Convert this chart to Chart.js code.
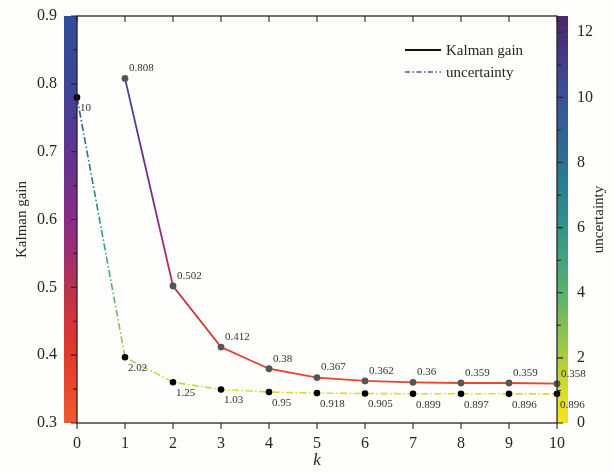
<!DOCTYPE html>
<html>
<head>
<meta charset="utf-8">
<script src="https://cdn.jsdelivr.net/npm/chart.js@4.4.1/dist/chart.umd.min.js"></script>
<style>
  html, body { margin: 0; padding: 0; background: #fdfdfc; }
  canvas { display: block; }
</style>
</head>
<body>
<canvas id="kalmanChart" width="614" height="472"></canvas>
<script>
// --- Données ---
const gainSteps = [1, 2, 3, 4, 5, 6, 7, 8, 9, 10];
const gainValues = [0.808, 0.502, 0.412, 0.38, 0.367, 0.362, 0.36, 0.359, 0.359, 0.358];
const uncertaintySteps = [0, 1, 2, 3, 4, 5, 6, 7, 8, 9, 10];
const uncertaintyValues = [10, 2.02, 1.25, 1.03, 0.95, 0.918, 0.905, 0.899, 0.897, 0.896, 0.896];

const kTicks = [0, 1, 2, 3, 4, 5, 6, 7, 8, 9, 10];
const gainTicks = [0.3, 0.4, 0.5, 0.6, 0.7, 0.8, 0.9];
const uncertaintyTicks = [0, 2, 4, 6, 8, 10, 12];

const FONT = "'Liberation Serif', 'DejaVu Serif', serif";
const INK = '#262626';

// Palettes des barres de couleur (valeur -> couleur)
const gainStops = [
    [0.3, '#ef5a30'], [0.4, '#e2392c'], [0.45, '#d23538'], [0.5, '#b7344f'],
    [0.55, '#9d2f73'], [0.6, '#8a2c86'], [0.7, '#5f3490'], [0.8, '#3c4596'], [0.9, '#2f4f9c']
];
const uncertaintyStops = [
    [0, '#f7e31e'], [1, '#d7dc2e'], [2, '#a9cd42'], [3, '#80c052'], [4, '#5ab26c'],
    [5, '#43a37e'], [6, '#32938a'], [7, '#2a838f'], [8, '#2b7290'], [9, '#306296'],
    [10, '#38529a'], [11, '#413f8d'], [12, '#4a2c74'], [12.5, '#4b276c']
];

function valueGradient(ctx, scale, stops) {
    const g = ctx.createLinearGradient(0, scale.bottom, 0, scale.top);
    const span = scale.max - scale.min;
    stops.forEach(([v, c]) => g.addColorStop(Math.min(1, Math.max(0, (v - scale.min) / span)), c));
    return g;
}

// --- Décor : barres de couleur, cadre, graduations, étiquettes, légende ---
const decorPlugin = {
    id: 'decor',
    beforeDatasetsDraw(chart) {
        const { ctx, chartArea: a, scales: { y, y1 } } = chart;
        ctx.save();
        ctx.fillStyle = valueGradient(ctx, y, gainStops);
        ctx.fillRect(a.left - 13, a.top, 13, a.bottom - a.top);
        ctx.fillStyle = valueGradient(ctx, y1, uncertaintyStops);
        ctx.fillRect(a.right, a.top, 11, a.bottom - a.top);
        ctx.restore();
    },
    afterDatasetsDraw(chart) {
        const { ctx, chartArea: a, scales: { x, y, y1 } } = chart;
        ctx.save();

        // étiquettes des points
        ctx.font = '11px ' + FONT;
        ctx.fillStyle = '#333';
        ctx.textAlign = 'left';
        ctx.textBaseline = 'middle';
        chart.getDatasetMeta(0).data.forEach((pt, i) => {
            ctx.fillText(String(gainValues[i]), pt.x + 4, pt.y - 10);
        });
        chart.getDatasetMeta(1).data.forEach((pt, i) => {
            ctx.fillText(String(uncertaintyValues[i]), pt.x + 3, pt.y + 11);
        });

        // cadre
        ctx.strokeStyle = INK;
        ctx.lineWidth = 1.3;
        ctx.strokeRect(a.left, a.top, a.right - a.left, a.bottom - a.top);

        // graduations
        ctx.lineWidth = 1.1;
        ctx.beginPath();
        kTicks.forEach(v => {
            const px = x.getPixelForValue(v);
            ctx.moveTo(px, a.bottom); ctx.lineTo(px, a.bottom + 6);
            ctx.moveTo(px, a.top); ctx.lineTo(px, a.top + 6);
        });
        gainTicks.forEach((v, i) => {
            const py = y.getPixelForValue(v);
            ctx.moveTo(a.left, py); ctx.lineTo(a.left - 6, py);
            if (i < gainTicks.length - 1) {
                const pm = y.getPixelForValue((v + gainTicks[i + 1]) / 2);
                ctx.moveTo(a.left, pm); ctx.lineTo(a.left - 4, pm);
            }
        });
        uncertaintyTicks.forEach(v => {
            const py = y1.getPixelForValue(v);
            ctx.moveTo(a.right, py); ctx.lineTo(a.right + 6, py);
            const pm = y1.getPixelForValue(v + 1);
            if (pm >= a.top) { ctx.moveTo(a.right, pm); ctx.lineTo(a.right + 4, pm); }
        });
        ctx.stroke();

        // titre de l'axe droit (lu de bas en haut)
        ctx.fillStyle = INK;
        ctx.font = '15px ' + FONT;
        ctx.textAlign = 'center';
        ctx.translate(599, (a.top + a.bottom) / 2);
        ctx.rotate(-Math.PI / 2);
        ctx.fillText('uncertainty', 0, 0);
        ctx.setTransform(1, 0, 0, 1, 0, 0);

        // légende
        ctx.textAlign = 'left';
        ctx.lineWidth = 1.8;
        ctx.strokeStyle = '#111';
        ctx.beginPath(); ctx.moveTo(405, 50); ctx.lineTo(441, 50); ctx.stroke();
        ctx.fillText(chart.data.datasets[0].label, 446, 51);
        ctx.strokeStyle = '#6b4c9a';
        ctx.lineWidth = 1.5;
        ctx.setLineDash([5, 2.5, 1.5, 2.5]);
        ctx.beginPath(); ctx.moveTo(405, 72); ctx.lineTo(441, 72); ctx.stroke();
        ctx.setLineDash([]);
        ctx.fillText(chart.data.datasets[1].label, 446, 73);

        ctx.restore();
    }
};

const axisFont = { family: FONT, size: 16 };

// pas de marge automatique autour des axes : la zone du graphe est fixée
function fixHorizontal(s) { s.height = 49; s.paddingLeft = 0; s.paddingRight = 0; }
function fixVertical(w) { return s => { s.width = w; s.paddingTop = 0; s.paddingBottom = 0; }; }

const ctx = document.getElementById('kalmanChart').getContext('2d');
new Chart(ctx, {
    type: 'line',
    data: {
        datasets: [{
            label: 'Kalman gain',
            data: gainSteps.map((k, i) => ({ x: k, y: gainValues[i] })),
            yAxisID: 'y',
            borderColor: c => c.chart.chartArea ? valueGradient(c.chart.ctx, c.chart.scales.y, gainStops) : '#555',
            borderWidth: 1.8,
            pointRadius: 2.5,
            pointBackgroundColor: '#555',
            pointBorderColor: '#555',
            tension: 0,
            clip: 10
        }, {
            label: 'uncertainty',
            data: uncertaintySteps.map((k, i) => ({ x: k, y: uncertaintyValues[i] })),
            yAxisID: 'y1',
            borderColor: c => c.chart.chartArea ? valueGradient(c.chart.ctx, c.chart.scales.y1, uncertaintyStops) : '#555',
            borderWidth: 1.6,
            borderDash: [7, 2.5, 1.5, 2.5],
            pointRadius: 2.5,
            pointBackgroundColor: '#000',
            pointBorderColor: '#000',
            tension: 0,
            clip: 10
        }]
    },
    options: {
        responsive: false,
        animation: false,
        layout: { padding: { top: 16, left: 0, right: 0, bottom: 0 } },
        plugins: { legend: { display: false }, tooltip: { enabled: false } },
        scales: {
            x: {
                type: 'linear', min: 0, max: 10,
                afterBuildTicks: s => { s.ticks = kTicks.map(v => ({ value: v })); },
                afterFit: fixHorizontal,
                ticks: { font: axisFont, color: INK, padding: 11, maxRotation: 0 },
                grid: { display: false, drawTicks: false },
                border: { display: false },
                title: { display: true, text: 'k', color: INK, font: { family: FONT, size: 17, style: 'italic' }, padding: { top: 0, bottom: 1 } }
            },
            y: {
                position: 'left', min: 0.3, max: 0.9,
                afterBuildTicks: s => { s.ticks = gainTicks.map(v => ({ value: v })); },
                afterFit: fixVertical(77),
                ticks: { font: axisFont, color: INK, padding: 20, callback: v => v.toFixed(1) },
                grid: { display: false, drawTicks: false },
                border: { display: false },
                title: { display: true, text: 'Kalman gain', color: INK, font: { family: FONT, size: 15 }, padding: { top: 13, bottom: 0 } }
            },
            y1: {
                position: 'right', min: 0, max: 12.5,
                afterBuildTicks: s => { s.ticks = uncertaintyTicks.map(v => ({ value: v })); },
                afterFit: fixVertical(57),
                ticks: { font: axisFont, color: INK, padding: 20 },
                grid: { display: false, drawTicks: false },
                border: { display: false }
            }
        }
    },
    plugins: [decorPlugin]
});
</script>
</body>
</html>
